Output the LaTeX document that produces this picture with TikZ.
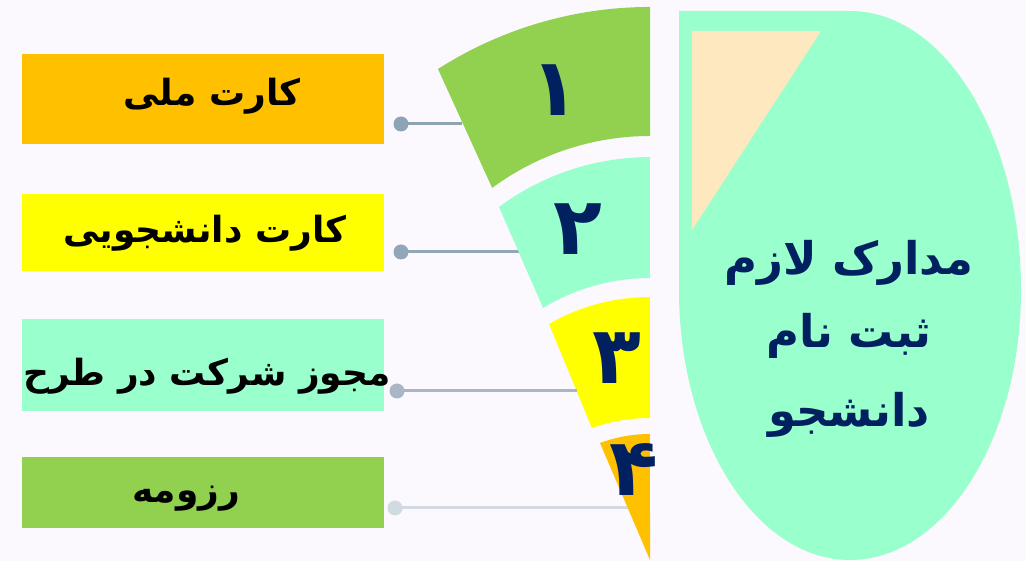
\documentclass[tikz,border=0pt]{standalone}
\usepackage{fontspec}
\newfontfamily\arabicfont[Script=Arabic]{DejaVu Sans}
\TeXXeTstate=1
\definecolor{bgc}{HTML}{FBF9FE}
\definecolor{orangec}{HTML}{FFC000}
\definecolor{yellowc}{HTML}{FFFF00}
\definecolor{mintc}{HTML}{99FFCC}
\definecolor{greenc}{HTML}{92D050}
\definecolor{navyc}{HTML}{002060}
\definecolor{peachc}{HTML}{FEE8C0}
\definecolor{lineA}{HTML}{8FA3B7}
\definecolor{lineB}{HTML}{93A6B9}
\definecolor{lineC}{HTML}{A8B6C5}
\definecolor{lineD}{HTML}{D2DAE1}
\tikzset{
  docbox/.style={rectangle, inner sep=0pt, minimum width=362pt},
  doctext/.style={inner sep=0pt, text=black,
    font=\arabicfont\bfseries\fontsize{36}{40}\selectfont},
  dotnode/.style={circle, inner sep=0pt, minimum size=15pt},
  digit/.style={inner sep=0pt, text=navyc, font=\arabicfont\bfseries\fontsize{80}{84}\selectfont},
  titletext/.style={inner sep=0pt, text=navyc, font=\arabicfont\bfseries\fontsize{45}{48}\selectfont},
  conn/.style={line width=3pt}
}
\begin{document}
\begin{tikzpicture}[x=1pt,y=1pt]
\useasboundingbox (0,0) rectangle (1026,561);
\fill[bgc] (0,0) rectangle (1026,561);

% connector end points on the funnel edge
\coordinate (e1) at (462,437);
\coordinate (e2) at (520,309);
\coordinate (e3) at (577,170);
\coordinate (e4) at (630,53);

% connectors and dots
\node[dotnode, fill=lineA] (d1) at (401,437) {};
\node[dotnode, fill=lineB] (d2) at (401,309) {};
\node[dotnode, fill=lineD] (d4) at (395,53) {};
\draw[conn, lineA] (d1.center) -- (e1);
\draw[conn, lineB] (d2.center) -- (e2);
\draw[conn, lineD] (d4.center) -- (e4);

% funnel segments
\fill[greenc] (438,492) arc[start angle=122.6,end angle=90,radius=393.5]
  -- (650,425) arc[start angle=90,end angle=126.4,radius=266] -- cycle;
\fill[mintc] (499,354) arc[start angle=126.6,end angle=90,radius=253]
  -- (650,283) arc[start angle=90,end angle=121.3,radius=205.8] -- cycle;
\fill[yellowc] (549,237) arc[start angle=119.9,end angle=90,radius=202.4]
  -- (650,143) arc[start angle=90,end angle=109.6,radius=173.2] -- cycle;
\fill[orangec] (600,118) arc[start angle=110.4,end angle=90,radius=143.4]
  -- (650,1) -- cycle;

\node[digit] (n1) at (555,471) {\beginR ۱\endR};
\node[digit] (n2) at (578,332) {\beginR ۲\endR};
\node[digit] (n3) at (617,203) {\beginR ۳\endR};
\node[digit] (n4) at (634,91) {\beginR ۴\endR};

% boxes
\node[docbox, fill=orangec, minimum height=90pt] (b1) at (203,462) {};
\node[docbox, fill=yellowc, minimum height=77pt] (b2) at (203,328.5) {};
\node[docbox, fill=mintc, minimum height=92pt] (b3) at (203,196) {};
\node[docbox, fill=greenc, minimum height=71pt] (b4) at (203,68.5) {};
\node[doctext] (l1) at (212,465) {\beginR کارت ملی\endR};
\node[doctext] (l2) at (205,328) {\beginR کارت دانشجویی\endR};
\node[doctext] (l3) at (207,185) {\beginR مجوز شرکت در طرح\endR};
\node[doctext] (l4) at (186,62) {\beginR رزومه\endR};

\node[dotnode, fill=lineC] (d3) at (397,170) {};
\draw[conn, lineC] (d3.center) -- (e3);

% right shape
\fill[mintc] (679,550) -- (850,550)
  arc[start angle=90,end angle=0,x radius=171,y radius=279]
  arc[start angle=0,end angle=-180,x radius=171,y radius=270] -- cycle;
\fill[peachc] (692,530) -- (821,530) -- (692,331) -- cycle;

\node[titletext, anchor=base] (t1) at (849,286) {\beginR مدارک لازم\endR};
\node[titletext, anchor=base] (t2) at (849,213) {\beginR ثبت نام\endR};
\node[titletext, anchor=base] (t3) at (849,134) {\beginR دانشجو\endR};
\end{tikzpicture}
\end{document}
